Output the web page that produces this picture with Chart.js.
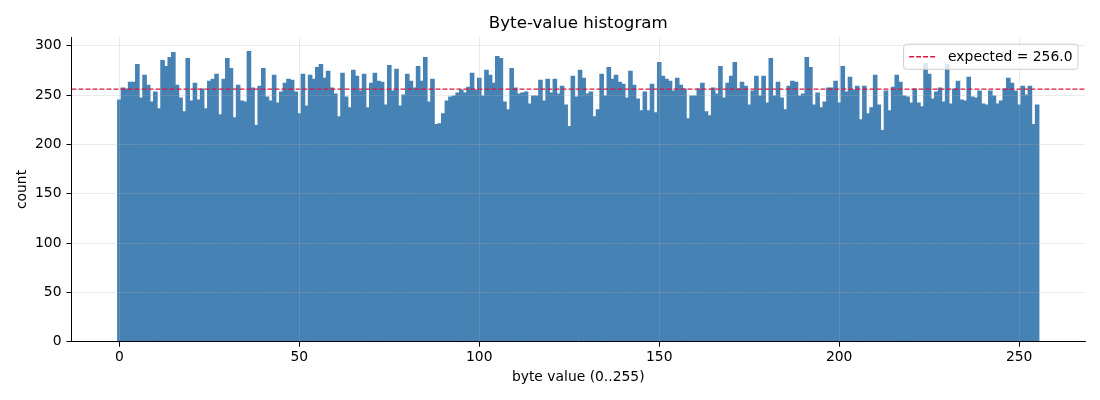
<!DOCTYPE html>
<html>
<head>
<meta charset="utf-8">
<script src="https://cdn.jsdelivr.net/npm/chart.js@4.4.1/dist/chart.umd.min.js"></script>
<style>
  html, body { margin: 0; padding: 0; background: #ffffff; }
  #wrap { width: 1100px; height: 400px; position: relative; }
</style>
</head>
<body>
<div id="wrap"><canvas id="c" width="1100" height="400"></canvas></div>
<script>
// ---- data ----
const TITLE = "Byte-value histogram";
const X_LABEL = "byte value (0..255)";
const Y_LABEL = "count";
const EXPECTED = 256.0;
const LEGEND_LABEL = "expected = 256.0";
const X_TICKS = [0, 50, 100, 150, 200, 250];
const Y_TICKS = [0, 50, 100, 150, 200, 250, 300];
const X_MIN = -13.3, X_MAX = 268.3;
const Y_MIN = 0, Y_MAX = 308.5;

// counts per byte value 0..255
const COUNTS = [
  245,257,256,263,263,281,247,270,260,243,253,236,285,279,288,293,
  260,247,233,287,244,262,245,256,236,264,266,271,230,266,287,277,
  227,260,244,243,294,257,219,259,277,248,244,270,242,253,262,266,
  265,253,231,271,239,270,266,278,281,267,274,257,251,228,272,248,
  237,275,269,254,271,237,262,272,264,263,240,280,254,276,239,250,
  271,264,257,279,264,288,243,266,220,221,231,244,248,249,252,255,
  252,258,272,255,267,249,275,270,262,289,287,243,235,277,257,251,
  252,253,241,249,249,265,244,266,252,266,251,259,240,218,269,248,
  275,267,251,253,228,235,271,249,278,266,270,263,261,247,274,260,
  246,234,253,234,261,232,283,269,266,264,254,267,260,256,226,249,
  249,256,262,233,229,257,251,279,247,262,269,283,256,263,259,240,
  254,269,249,269,242,287,249,263,247,235,259,264,263,249,251,288,
  278,240,252,237,243,257,257,264,242,279,253,268,255,259,225,259,
  231,237,270,240,214,254,234,258,270,263,249,248,242,256,242,238,
  282,271,246,253,257,243,281,241,256,264,245,244,268,248,247,254,
  241,240,254,249,241,244,256,267,262,254,240,259,250,259,220,240
];

// ---- styles ----
const FONT = "'DejaVu Sans', sans-serif";
const BAR_COLOR = "#4682b4";
const LINE_COLOR = "#dc143c";
const GRID_COLOR = "rgba(176,176,176,0.32)";
const DASH = [4.9, 2.1];

const barPoints = COUNTS.map((c, i) => ({ x: i, y: c }));
const linePoints = [{ x: X_MIN, y: EXPECTED }, { x: X_MAX, y: EXPECTED }];

const extrasPlugin = {
  id: 'extras',
  afterDraw(chart) {
    const ctx = chart.ctx;
    const a = chart.chartArea;
    ctx.save();
    // title
    ctx.fillStyle = '#000';
    ctx.font = "16.67px " + FONT;
    ctx.textAlign = 'center';
    ctx.textBaseline = 'alphabetic';
    ctx.fillText(TITLE, (a.left + a.right) / 2, 28);

    // legend (upper right, inside axes)
    const fs = 13.89;
    ctx.font = fs + "px " + FONT;
    const tw = ctx.measureText(LEGEND_LABEL).width;
    const pad = 0.4 * fs, hl = 2.0 * fs, htp = 0.8 * fs;
    const w = pad + hl + htp + tw + pad;
    const h = 25;
    const right = a.right - 0.5 * fs;
    const top = a.top + 0.5 * fs;
    const left = right - w;
    ctx.beginPath();
    if (ctx.roundRect) ctx.roundRect(left, top, w, h, 3); else ctx.rect(left, top, w, h);
    ctx.fillStyle = 'rgba(255,255,255,0.8)';
    ctx.fill();
    ctx.lineWidth = 1;
    ctx.strokeStyle = '#cccccc';
    ctx.stroke();
    const cy = top + h / 2;
    ctx.beginPath();
    ctx.setLineDash(DASH);
    ctx.strokeStyle = LINE_COLOR;
    ctx.lineWidth = 1.3;
    ctx.moveTo(left + pad, cy);
    ctx.lineTo(left + pad + hl, cy);
    ctx.stroke();
    ctx.setLineDash([]);
    ctx.fillStyle = '#000';
    ctx.textAlign = 'left';
    ctx.textBaseline = 'middle';
    ctx.fillText(LEGEND_LABEL, left + pad + hl + htp, cy + 0.5);
    ctx.restore();
  }
};

new Chart(document.getElementById('c'), {
  type: 'bar',
  data: {
    datasets: [
      {
        type: 'line',
        label: LEGEND_LABEL,
        data: linePoints,
        borderColor: LINE_COLOR,
        borderWidth: 1.3,
        borderDash: DASH,
        pointRadius: 0,
        fill: false,
        order: 0
      },
      {
        type: 'bar',
        label: 'count',
        data: barPoints,
        backgroundColor: BAR_COLOR,
        borderWidth: 0,
        inflateAmount: 0.5,
        barPercentage: 1.0,
        categoryPercentage: 1.0,
        order: 1
      }
    ]
  },
  options: {
    responsive: false,
    animation: false,
    devicePixelRatio: 1,
    layout: { padding: { top: 37.3, right: 15, left: 0, bottom: 0 } },
    plugins: {
      legend: { display: false },
      tooltip: { enabled: false },
      title: { display: false }
    },
    scales: {
      x: {
        type: 'linear',
        min: X_MIN,
        max: X_MAX,
        offset: false,
        afterFit(s) { s.height = 58.3; },
        afterBuildTicks(s) { s.ticks = X_TICKS.map(v => ({ value: v })); },
        grid: {
          display: true, offset: false, z: 1,
          color: GRID_COLOR, lineWidth: 0.8,
          drawTicks: true, tickLength: 5, tickColor: '#000', tickWidth: 1
        },
        border: { display: true, color: '#000', width: 1, z: 2 },
        ticks: {
          color: '#000', padding: 2, maxRotation: 0,
          font: { family: FONT, size: 13.89 }
        },
        title: {
          display: true, text: X_LABEL, color: '#000',
          font: { family: FONT, size: 13.89 },
          padding: { top: 0, bottom: 14 }
        }
      },
      y: {
        type: 'linear',
        min: Y_MIN,
        max: Y_MAX,
        afterFit(s) { s.width = 71.5; },
        afterBuildTicks(s) { s.ticks = Y_TICKS.map(v => ({ value: v })); },
        grid: {
          display: true, z: 1,
          color: GRID_COLOR, lineWidth: 0.8,
          drawTicks: true, tickLength: 5, tickColor: '#000', tickWidth: 1
        },
        border: { display: true, color: '#000', width: 1, z: 2 },
        ticks: {
          color: '#000', padding: 5,
          font: { family: FONT, size: 13.89 }
        },
        title: {
          display: true, text: Y_LABEL, color: '#000',
          font: { family: FONT, size: 13.89 },
          padding: { top: 14, bottom: 0 }
        }
      }
    }
  },
  plugins: [extrasPlugin]
});
</script>
</body>
</html>
